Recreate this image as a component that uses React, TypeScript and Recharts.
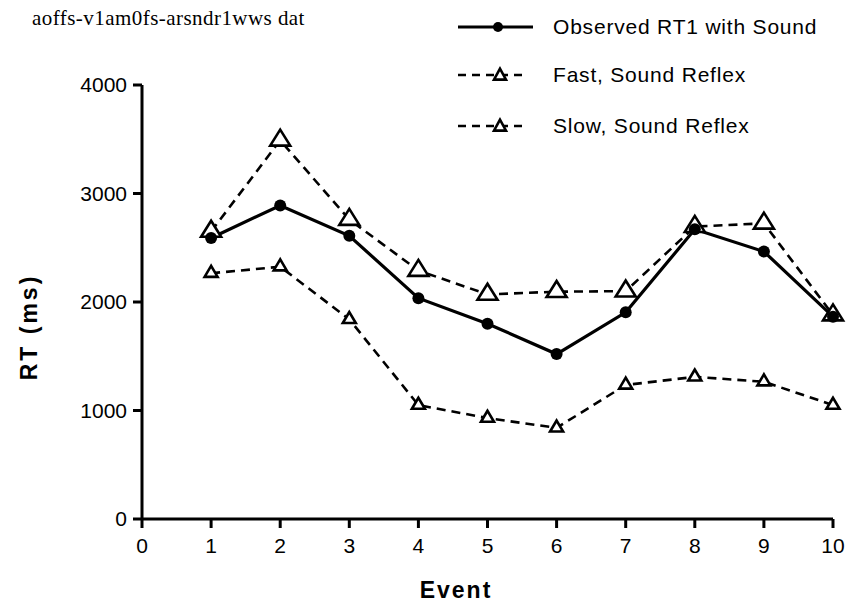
import { LineChart, Line, XAxis, YAxis, Legend } from 'recharts';

const events = [1, 2, 3, 4, 5, 6, 7, 8, 9, 10];
const observedRT = [2590, 2890, 2610, 2035, 1800, 1520, 1905, 2670, 2465, 1865];
const fastReflex = [2265, 2325, 1840, 1050, 930, 840, 1235, 1310, 1265, 1050];
const slowReflex = [2650, 3490, 2760, 2290, 2070, 2095, 2100, 2695, 2725, 1880];
const xTicks = [0, 1, 2, 3, 4, 5, 6, 7, 8, 9, 10];
const yTicks = [0, 1000, 2000, 3000, 4000];

const seriesNames = ['Observed RT1 with Sound', 'Fast, Sound Reflex', 'Slow, Sound Reflex'];
const fileTitle = 'aoffs-v1am0fs-arsndr1wws dat';

const data = events.map((e, i) => ({
  event: e,
  observed: observedRT[i],
  fast: fastReflex[i],
  slow: slowReflex[i],
}));

const SANS = '"Liberation Sans", Arial, Helvetica, sans-serif';
const SERIF = '"Liberation Serif", "Times New Roman", serif';

const Triangle = ({ cx, cy, w, h, sw }: any) => (
  <polygon
    points={`${cx},${cy - (2 * h) / 3} ${cx - w / 2},${cy + h / 3} ${cx + w / 2},${cy + h / 3}`}
    fill="#fff"
    stroke="#000"
    strokeWidth={sw}
    strokeLinejoin="miter"
  />
);

const fastDot = (props: any) => (
  <Triangle key={`fast-${props.index}`} cx={props.cx} cy={props.cy} w={13} h={11} sw={2.6} />
);
const slowDot = (props: any) => (
  <Triangle key={`slow-${props.index}`} cx={props.cx} cy={props.cy} w={20} h={16} sw={2.6} />
);
const obsDot = (props: any) => (
  <circle key={`obs-${props.index}`} cx={props.cx} cy={props.cy} r={6} fill="#000" />
);

const TopLegend = () => {
  const rows = [27, 75, 126];
  return (
    <svg width={847} height={150}>
      <text x={32} y={25} fontFamily={SERIF} fontSize={21} letterSpacing={0.45} fill="#000">
        {fileTitle}
      </text>
      {/* solid */}
      <line x1={458} x2={533} y1={rows[0]} y2={rows[0]} stroke="#000" strokeWidth={3} />
      <circle cx={498} cy={rows[0]} r={5} fill="#000" />
      {/* dashed */}
      {[1, 2].map((r) => (
        <g key={r}>
          <line x1={458} x2={527} y1={rows[r]} y2={rows[r]} stroke="#000" strokeWidth={2.6} strokeDasharray="8 6" />
          <Triangle cx={500} cy={rows[r] + 1} w={12} h={11} sw={2.6} />
        </g>
      ))}
      {seriesNames.map((n, i) => (
        <text key={n} x={553} y={rows[i] + 7} fontFamily={SANS} fontSize={21} letterSpacing={0.8} fill="#000">
          {n}
        </text>
      ))}
    </svg>
  );
};

const yLabel = () => (
  <text
    x={29}
    y={327}
    transform="rotate(-90 29 327)"
    textAnchor="middle"
    dominantBaseline="central"
    fontFamily={SANS}
    fontWeight="bold"
    fontSize={23}
    letterSpacing={3}
    fill="#000"
  >
    RT (ms)
  </text>
);

const xLabel = () => (
  <text
    x={456}
    y={598}
    textAnchor="middle"
    fontFamily={SANS}
    fontWeight="bold"
    fontSize={23}
    letterSpacing={2}
    fill="#000"
  >
    Event
  </text>
);

export default function App() {
  const tickStyle = { fill: '#000', fontSize: 21, fontFamily: SANS };
  return (
    <div style={{ position: 'fixed', left: 0, top: 0, width: 847, height: 607, background: '#fff' }}>
      <LineChart width={847} height={607} data={data} margin={{ top: 85, right: 14, bottom: 0, left: 0 }}>
        <XAxis
          type="number"
          dataKey="event"
          domain={[0, 10]}
          ticks={xTicks}
          interval={0}
          height={88}
          stroke="#000"
          strokeWidth={3}
          tickSize={9}
          tickMargin={10}
          tick={tickStyle}
          label={xLabel}
        />
        <YAxis
          type="number"
          domain={[0, 4000]}
          ticks={yTicks}
          interval={0}
          width={142}
          stroke="#000"
          strokeWidth={3}
          tickSize={9}
          tickMargin={6}
          tick={tickStyle}
          label={yLabel}
        />
        <Legend
          layout="horizontal"
          verticalAlign="middle"
          align="center"
          content={() => <TopLegend />}
          wrapperStyle={{ position: 'absolute', left: 0, top: 0, width: 847, height: 150 }}
        />
        <Line
          dataKey="fast"
          stroke="#000"
          strokeWidth={2.6}
          strokeDasharray="9 6"
          dot={fastDot}
          isAnimationActive={false}
        />
        <Line
          dataKey="slow"
          stroke="#000"
          strokeWidth={2.6}
          strokeDasharray="9 6"
          dot={slowDot}
          isAnimationActive={false}
        />
        <Line
          dataKey="observed"
          stroke="#000"
          strokeWidth={3.2}
          dot={obsDot}
          isAnimationActive={false}
        />
      </LineChart>
    </div>
  );
}
